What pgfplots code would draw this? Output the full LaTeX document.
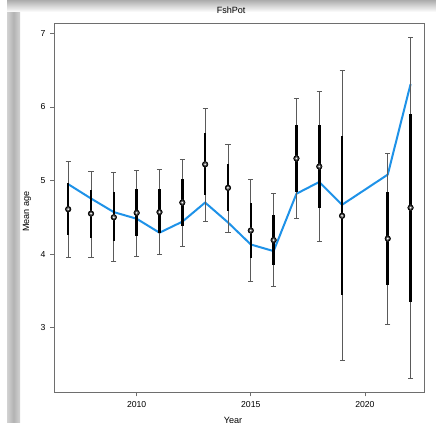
\documentclass[border=0pt]{standalone}
\usepackage{fontspec}
\setmainfont{Liberation Sans}
\usepackage{pgfplots}
\pgfplotsset{compat=1.18}
\usepackage{pgfplotstable}
\definecolor{lineblue}{RGB}{30,146,232}
\definecolor{framegray}{RGB}{110,110,110}
\definecolor{whiskgray}{RGB}{90,90,90}
\pgfplotstableread{
year mean lo hi lo5 hi5 fit
2007 4.61 3.96 5.26 4.26 4.96 4.95
2008 4.55 3.96 5.13 4.22 4.87 4.755
2009 4.50 3.90 5.11 4.18 4.84 4.57
2010 4.56 3.97 5.14 4.24 4.88 4.48
2011 4.57 4.00 5.15 4.28 4.89 4.29
2012 4.70 4.11 5.29 4.38 5.02 4.44
2013 5.22 4.45 5.98 4.80 5.64 4.70
2014 4.90 4.30 5.49 4.58 5.22 4.43
2015 4.32 3.63 5.01 3.95 4.70 4.13
2016 4.19 3.56 4.82 3.85 4.53 4.04
2017 5.30 4.49 6.12 4.85 5.75 4.82
2018 5.19 4.17 6.21 4.63 5.75 4.98
2019 4.52 2.55 6.50 3.44 5.60 4.67
2021 4.21 3.05 5.37 3.58 4.85 5.08
2022 4.63 2.31 6.94 3.35 5.90 6.31
}\data
\begin{document}
\begin{tikzpicture}[x=1pt,y=1pt]
\useasboundingbox (0,0) rectangle (327,317.25);
\fill[white] (0,0) rectangle (327,317.25);
\shade[left color=gray!35, right color=gray!35, middle color=gray!60] (5.25,0) rectangle (15,309);
\shade[top color=gray!65, bottom color=white] (5.25,308.25) rectangle (327,317.25);
\begin{axis}[
  scale only axis, width=277.5pt, height=276.7pt,
  at={(40.7pt,23pt)}, anchor=south west,
  xmin=2006.39, xmax=2022.6, ymin=2.12, ymax=7.136,
  xtick={2010,2015,2020}, ytick={3,4,5,6,7},
  tick align=outside, tick pos=left, major tick length=3pt,
  axis line style={framegray, line width=0.75pt},
  tick style={framegray, line width=0.6pt},
  ticklabel style={font=\fontsize{6.5}{7}\selectfont},
  /pgf/number format/assume math mode=true,
  x tick label style={/pgf/number format/1000 sep={}},
  title=FshPot,
  title style={font=\fontsize{6.8}{7}\selectfont, at={(axis description cs:0.478,1)}, anchor=south, inner sep=1pt},
  xlabel=Year, ylabel=Mean age,
  xlabel style={font=\fontsize{6.8}{7}\selectfont, at={(axis description cs:0.483,-0.075)}, anchor=center},
  ylabel style={font=\fontsize{6.8}{7}\selectfont, at={(axis description cs:-0.074,0.49)}, anchor=center},
  clip=false,
]
\addplot[lineblue, line width=1.5pt] table[x=year,y=fit]{\data};
\addplot[whiskgray, line width=0.6pt, only marks, mark=none,
  error bars/.cd, y dir=both, y explicit,
  error bar style={whiskgray, line width=0.6pt},
  error mark options={whiskgray, line width=0.6pt, mark size=1.9pt, rotate=90}]
  table[x=year, y=mean, y error plus expr=\thisrow{hi}-\thisrow{mean}, y error minus expr=\thisrow{mean}-\thisrow{lo}]{\data};
\addplot[black, only marks, mark=none,
  error bars/.cd, y dir=both, y explicit, error mark=none,
  error bar style={black, line width=1.9pt}]
  table[x=year, y=mean, y error plus expr=\thisrow{hi5}-\thisrow{mean}, y error minus expr=\thisrow{mean}-\thisrow{lo5}]{\data};
\addplot[only marks, mark=*, mark size=1.3pt, mark options={fill=white, draw=gray!70!black, line width=0.6pt}]
  table[x=year,y=mean]{\data};
\end{axis}
\end{tikzpicture}
\end{document}
